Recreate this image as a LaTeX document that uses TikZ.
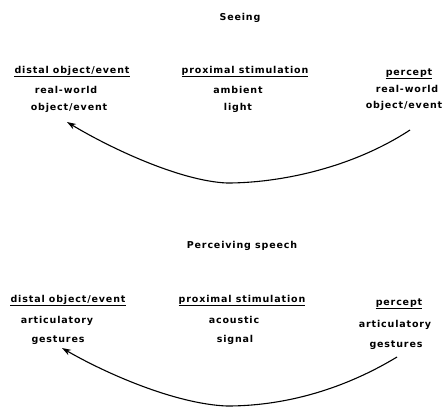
\documentclass[tikz,border=0pt]{standalone}
\usepackage{fontspec}
\setmainfont{DejaVu Sans}[LetterSpace=9]
\usetikzlibrary{arrows.meta}
\begin{document}
\begin{tikzpicture}[x=1pt,y=-1pt,
  lbl/.style={inner sep=0pt,anchor=base,font=\fontsize{9.5}{11}\selectfont\bfseries},
  ul/.style={line width=0.9pt},
  arc/.style={line width=1.1pt,-{Stealth[length=9pt,width=6pt]}}]
\useasboundingbox (0,0) rectangle (444,408);
% ---- Seeing ----
\node[lbl] (t1) at (240,20) {Seeing};
\node[lbl] (d1) at (72,73) {distal object/event};
\node[lbl] (d1a) at (66,93) {real-world};
\node[lbl] (d1b) at (69,110) {object/event};
\node[lbl] (p1) at (245,73) {proximal stimulation};
\node[lbl] (p1a) at (238,93) {ambient};
\node[lbl] (p1b) at (238,110) {light};
\node[lbl] (c1) at (409,75) {percept};
\node[lbl] (c1a) at (407,92) {real-world};
\node[lbl] (c1b) at (404,108) {object/event};
\foreach \n in {d1,p1,c1}{\draw[ul] ([yshift=-3.5pt]\n.base west) -- ([yshift=-3.5pt]\n.base east);}
\coordinate (s1) at (410,130);
\coordinate (m1) at (227,183);
\coordinate (e1) at (67,122);
\draw[arc] (s1) .. controls (352,168) and (280,183) .. (m1)
  .. controls (180,181) and (110,148) .. (e1);
% ---- Perceiving speech ----
\node[lbl] (t2) at (242,248) {Perceiving speech};
\node[lbl] (d2) at (68,302) {distal object/event};
\node[lbl] (d2a) at (57,323) {articulatory};
\node[lbl] (d2b) at (58,342) {gestures};
\node[lbl] (p2) at (242,302) {proximal stimulation};
\node[lbl] (p2a) at (234,323) {acoustic};
\node[lbl] (p2b) at (235,342) {signal};
\node[lbl] (c2) at (399,305) {percept};
\node[lbl] (c2a) at (395,327) {articulatory};
\node[lbl] (c2b) at (396,347) {gestures};
\foreach \n in {d2,p2,c2}{\draw[ul] ([yshift=-3.5pt]\n.base west) -- ([yshift=-3.5pt]\n.base east);}
\coordinate (s2) at (397,357);
\coordinate (m2) at (227,406);
\coordinate (e2) at (62,348);
\draw[arc] (s2) .. controls (339,392) and (280,406) .. (m2)
  .. controls (175,404) and (105,373) .. (e2);
\end{tikzpicture}
\end{document}
